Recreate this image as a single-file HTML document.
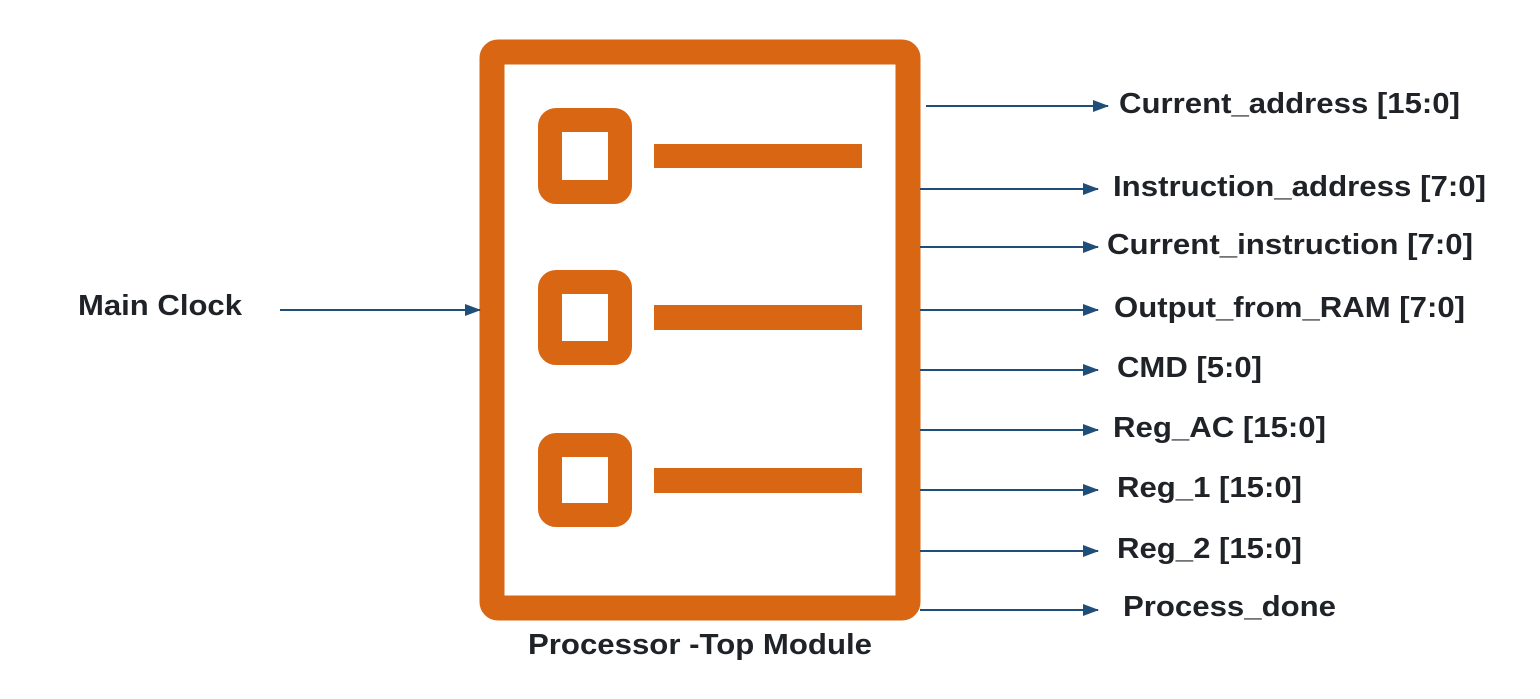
<!DOCTYPE html>
<html><head><meta charset="utf-8"><style>
html,body{margin:0;padding:0;background:#fff;}
svg{display:block;}
text{font-family:"Liberation Sans",sans-serif;font-weight:bold;font-size:29px;fill:#1f2328;}
</style></head><body>
<svg width="1540" height="699" viewBox="0 0 1540 699">
<defs><marker id="a" markerWidth="16" markerHeight="12" refX="15" refY="6" orient="auto" markerUnits="userSpaceOnUse"><path d="M0,0 L16,6 L0,12 Z" fill="#1f4e79"/></marker></defs>
<rect x="492" y="52" width="416" height="556" rx="6" fill="none" stroke="#d86613" stroke-width="25"/>
<g fill="none" stroke="#d86613" stroke-width="24">
<rect x="550" y="120" width="70" height="72" rx="6"/>
<rect x="550" y="282" width="70" height="71" rx="6"/>
<rect x="550" y="445" width="70" height="70" rx="6"/>
</g>
<g fill="#d86613">
<rect x="654" y="144" width="208" height="24"/>
<rect x="654" y="305" width="208" height="25"/>
<rect x="654" y="468" width="208" height="25"/>
</g>
<g stroke="#1f4e79" stroke-width="2" marker-end="url(#a)">
<line x1="280" y1="310" x2="480" y2="310"/>
<line x1="926" y1="106" x2="1108" y2="106"/>
<line x1="920" y1="189" x2="1098" y2="189"/>
<line x1="920" y1="247" x2="1098" y2="247"/>
<line x1="920" y1="310" x2="1098" y2="310"/>
<line x1="920" y1="370" x2="1098" y2="370"/>
<line x1="920" y1="430" x2="1098" y2="430"/>
<line x1="920" y1="490" x2="1098" y2="490"/>
<line x1="920" y1="551" x2="1098" y2="551"/>
<line x1="920" y1="610" x2="1098" y2="610"/>
</g>
<text x="78" y="315" textLength="164" lengthAdjust="spacingAndGlyphs">Main Clock</text>
<text x="1119" y="113" textLength="341" lengthAdjust="spacingAndGlyphs">Current_address [15:0]</text>
<text x="1113" y="196" textLength="373" lengthAdjust="spacingAndGlyphs">Instruction_address [7:0]</text>
<text x="1107" y="254" textLength="366" lengthAdjust="spacingAndGlyphs">Current_instruction [7:0]</text>
<text x="1114" y="317" textLength="351" lengthAdjust="spacingAndGlyphs">Output_from_RAM [7:0]</text>
<text x="1117" y="377" textLength="145" lengthAdjust="spacingAndGlyphs">CMD [5:0]</text>
<text x="1113" y="437" textLength="213" lengthAdjust="spacingAndGlyphs">Reg_AC [15:0]</text>
<text x="1117" y="497" textLength="185" lengthAdjust="spacingAndGlyphs">Reg_1 [15:0]</text>
<text x="1117" y="558" textLength="185" lengthAdjust="spacingAndGlyphs">Reg_2 [15:0]</text>
<text x="1123" y="616" textLength="213" lengthAdjust="spacingAndGlyphs">Process_done</text>
<text x="528" y="654" textLength="344" lengthAdjust="spacingAndGlyphs">Processor -Top Module</text>
</svg>
</body></html>
